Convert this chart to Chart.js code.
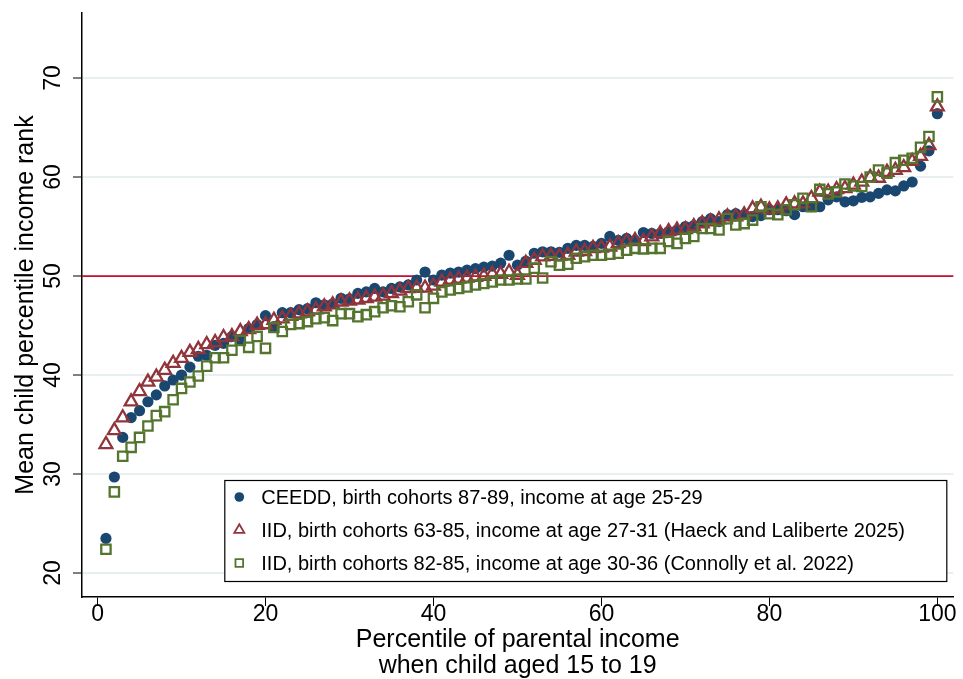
<!DOCTYPE html>
<html>
<head>
<meta charset="utf-8">
<script src="https://cdn.jsdelivr.net/npm/chart.js@4.4.1/dist/chart.umd.min.js"></script>
<style>
  html, body { margin: 0; padding: 0; background: #ffffff; }
  #wrap { width: 963px; height: 679px; }
</style>
</head>
<body>
<div id="wrap"><canvas id="c" width="963" height="679"></canvas></div>
<script>
// Parental income percentiles (x categories)
const percentiles = Array.from({ length: 100 }, (_, i) => i + 1);

// Mean child percentile income rank, by parental percentile
const ceedd8789 = [
  23.5, 29.7, 33.7, 35.7, 36.4, 37.3, 38.0, 38.9, 39.5, 40.0,
  40.8, 41.9, 42.0, 43.0, 43.2, 43.9, 43.6, 44.7, 45.1, 46.0,
  44.9, 46.3, 46.3, 46.6, 46.7, 47.3, 47.1, 47.2, 47.75, 47.7,
  48.25, 48.4, 48.75, 48.4, 48.75, 48.9, 49.1, 49.6, 50.4, 49.6,
  50.1, 50.3, 50.4, 50.6, 50.75, 50.9, 51.0, 51.3, 52.1, 51.1,
  51.5, 52.3, 52.45, 52.45, 52.4, 52.8, 53.1, 53.1, 53.0, 53.3,
  54.0, 53.6, 53.8, 53.6, 54.4, 54.3, 54.3, 54.5, 54.65, 55.0,
  55.1, 55.5, 55.8, 55.5, 56.2, 56.3, 56.2, 56.0, 56.1, 56.7,
  56.7, 56.6, 56.2, 57.0, 57.0, 57.0, 57.7, 58.0, 57.5, 57.6,
  57.95, 58.0, 58.35, 58.7, 58.6, 59.1, 59.5, 61.1, 62.65, 66.4
];

const iid6385 = [
  33.0, 34.4, 35.7, 37.3, 38.35, 39.3, 39.8, 40.5, 41.2, 41.7,
  42.3, 42.6, 43.1, 43.3, 43.8, 43.9, 44.4, 44.6, 45.05, 45.1,
  45.55, 45.7, 45.95, 46.2, 46.4, 46.6, 46.9, 47.1, 47.4, 47.5,
  47.6, 47.75, 47.9, 48.0, 48.25, 48.5, 48.75, 48.8, 48.8, 49.0,
  49.4, 49.6, 49.7, 49.8, 49.9, 50.0, 50.2, 50.2, 50.4, 50.1,
  51.3, 51.6, 51.95, 52.0, 52.0, 52.1, 52.45, 52.5, 52.8, 52.85,
  52.95, 53.3, 53.5, 53.6, 53.5, 53.97, 54.3, 54.5, 54.65, 54.7,
  55.0, 55.3, 55.5, 55.7, 56.0, 56.0, 56.2, 56.8, 56.97, 56.7,
  56.8, 57.2, 57.3, 57.3, 57.85, 58.5, 58.5, 58.75, 58.85, 59.2,
  59.5, 59.97, 59.9, 60.5, 60.7, 60.97, 61.6, 62.1, 63.2, 67.1
];

const iid8285 = [
  22.4, 28.2, 31.8, 32.7, 33.7, 34.85, 35.9, 36.3, 37.5, 38.65,
  39.3, 39.9, 40.9, 41.75, 41.75, 42.5, 43.5, 42.8, 43.9, 42.7,
  44.8, 44.4, 45.1, 45.2, 45.4, 45.7, 45.8, 45.5, 46.2, 46.2,
  45.9, 46.1, 46.4, 46.8, 47.0, 46.9, 47.4, 48.1, 46.8, 47.75,
  48.4, 48.6, 48.75, 48.9, 49.1, 49.25, 49.4, 49.6, 49.6, 49.7,
  49.7, 50.8, 49.8, 51.45, 51.1, 51.2, 51.8, 51.95, 52.1, 52.1,
  52.2, 52.3, 52.6, 52.8, 52.75, 52.8, 52.8, 53.5, 53.3, 53.8,
  54.0, 54.8, 54.8, 54.65, 55.8, 55.15, 55.3, 55.65, 57.0, 56.3,
  56.2, 56.7, 57.2, 57.85, 57.0, 58.75, 58.3, 58.5, 59.3, 59.1,
  59.05, 60.0, 60.7, 60.4, 61.45, 61.7, 61.9, 63.0, 64.1, 68.1
];

const seriesLabels = [
  'CEEDD, birth cohorts 87-89, income at age 25-29',
  'IID, birth cohorts 63-85, income at age 27-31 (Haeck and Laliberte 2025)',
  'IID, birth cohorts 82-85, income at age 30-36 (Connolly et al. 2022)'
];

const xTicks = [0, 20, 40, 60, 80, 100];
const yTicks = [20, 30, 40, 50, 60, 70];
const referenceRank = 50;

const FONT = "'Liberation Sans', Arial, Helvetica, sans-serif";
const NAVY = '#1a476f';
const MAROON = '#90353b';
const GREEN = '#55752f';

function toPoints(values) {
  return percentiles.map((p, i) => ({ x: p, y: values[i] }));
}

// Horizontal reference line at the median rank, under the markers
const referenceLine = {
  id: 'referenceLine',
  beforeDatasetsDraw(chart) {
    const { ctx, chartArea, scales } = chart;
    const y = scales.y.getPixelForValue(referenceRank);
    ctx.save();
    ctx.strokeStyle = '#c8102e';
    ctx.lineWidth = 1.7;
    ctx.beginPath();
    ctx.moveTo(chartArea.left, y);
    ctx.lineTo(chartArea.right, y);
    ctx.stroke();
    ctx.restore();
  }
};

// Boxed legend placed inside the lower-right part of the plot
const boxedLegend = {
  id: 'boxedLegend',
  afterDatasetsDraw(chart) {
    const { ctx, chartArea } = chart;
    const right = chartArea.right - 6;
    const bottom = chartArea.bottom - 15;
    const width = 723;
    const height = 102;
    const left = right - width;
    const top = bottom - height;
    ctx.save();
    ctx.fillStyle = '#ffffff';
    ctx.fillRect(left, top, width, height);
    ctx.strokeStyle = '#000000';
    ctx.lineWidth = 1.2;
    ctx.strokeRect(left + 0.5, top + 0.5, width - 1, height - 1);

    const sizes = [4.8, 5.8, 5.4];
    chart.data.datasets.forEach((ds, i) => {
      const cy = top + 17 + i * 33;
      const cx = left + 15;
      const hollow = ds.pointStyle !== 'circle';
      ctx.save();
      ctx.fillStyle = ds.pointBackgroundColor;
      ctx.strokeStyle = ds.pointBorderColor;
      ctx.lineWidth = hollow ? 1.8 : 0;
      Chart.helpers.drawPoint(ctx, {
        pointStyle: ds.pointStyle,
        radius: sizes[i],
        rotation: 0,
        borderWidth: hollow ? 1.8 : 0
      }, cx, cy);
      ctx.restore();

      ctx.fillStyle = '#000000';
      ctx.font = '20px ' + FONT;
      ctx.textAlign = 'left';
      ctx.textBaseline = 'middle';
      ctx.fillText(ds.label, left + 37, cy + 1);
    });
    ctx.restore();
  }
};

new Chart(document.getElementById('c'), {
  type: 'scatter',
  data: {
    datasets: [
      {
        label: seriesLabels[0],
        data: toPoints(ceedd8789),
        pointStyle: 'circle',
        pointRadius: 5.6,
        pointBackgroundColor: NAVY,
        pointBorderColor: NAVY,
        pointBorderWidth: 0,
        order: 2
      },
      {
        label: seriesLabels[1],
        data: toPoints(iid6385),
        pointStyle: 'triangle',
        pointRadius: 7.4,
        pointBackgroundColor: 'rgba(0,0,0,0)',
        pointBorderColor: MAROON,
        pointBorderWidth: 2.3,
        order: 1
      },
      {
        label: seriesLabels[2],
        data: toPoints(iid8285),
        pointStyle: 'rect',
        pointRadius: 6.6,
        pointBackgroundColor: 'rgba(0,0,0,0)',
        pointBorderColor: GREEN,
        pointBorderWidth: 2.3,
        order: 0
      }
    ]
  },
  options: {
    responsive: false,
    animation: false,
    devicePixelRatio: 1,
    layout: { padding: { left: 0, top: 13, right: 8, bottom: 0 } },
    plugins: {
      legend: { display: false },
      tooltip: { enabled: false }
    },
    scales: {
      x: {
        type: 'linear',
        min: -1.85,
        max: 101.9,
        afterBuildTicks: (scale) => { scale.ticks = xTicks.map(v => ({ value: v })); },
        afterFit: (scale) => { scale.height = 82; },
        grid: {
          drawOnChartArea: false,
          drawTicks: true,
          tickLength: 9,
          tickColor: '#000000',
          tickWidth: 1
        },
        border: { display: true, color: '#000000', width: 1.5 },
        ticks: {
          color: '#000000',
          font: { family: FONT, size: 23, lineHeight: 1 },
          padding: -3,
          maxRotation: 0,
          autoSkip: false
        },
        title: {
          display: true,
          text: ['Percentile of parental income', 'when child aged 15 to 19'],
          color: '#000000',
          font: { family: FONT, size: 25, lineHeight: 1.04 },
          padding: { top: 0, bottom: 0 }
        }
      },
      y: {
        type: 'linear',
        min: 17.58,
        max: 76.57,
        afterBuildTicks: (scale) => { scale.ticks = yTicks.map(v => ({ value: v })); },
        afterFit: (scale) => {
          scale.width = 82;
          scale.paddingTop = 0;
          scale.paddingBottom = 0;
        },
        grid: {
          color: '#e8eff1',
          lineWidth: 2,
          drawTicks: true,
          tickLength: 9,
          tickColor: '#000000',
          tickWidth: 1
        },
        border: { display: true, color: '#000000', width: 1.5 },
        ticks: {
          color: '#000000',
          font: { family: FONT, size: 23, lineHeight: 1 },
          minRotation: 90,
          maxRotation: 90,
          crossAlign: 'center',
          padding: 7
        },
        title: {
          display: true,
          text: 'Mean child percentile income rank',
          color: '#000000',
          font: { family: FONT, size: 25, lineHeight: 1.2 },
          padding: { top: 11, bottom: 0 }
        }
      }
    }
  },
  plugins: [referenceLine, boxedLegend]
});
</script>
</body>
</html>
